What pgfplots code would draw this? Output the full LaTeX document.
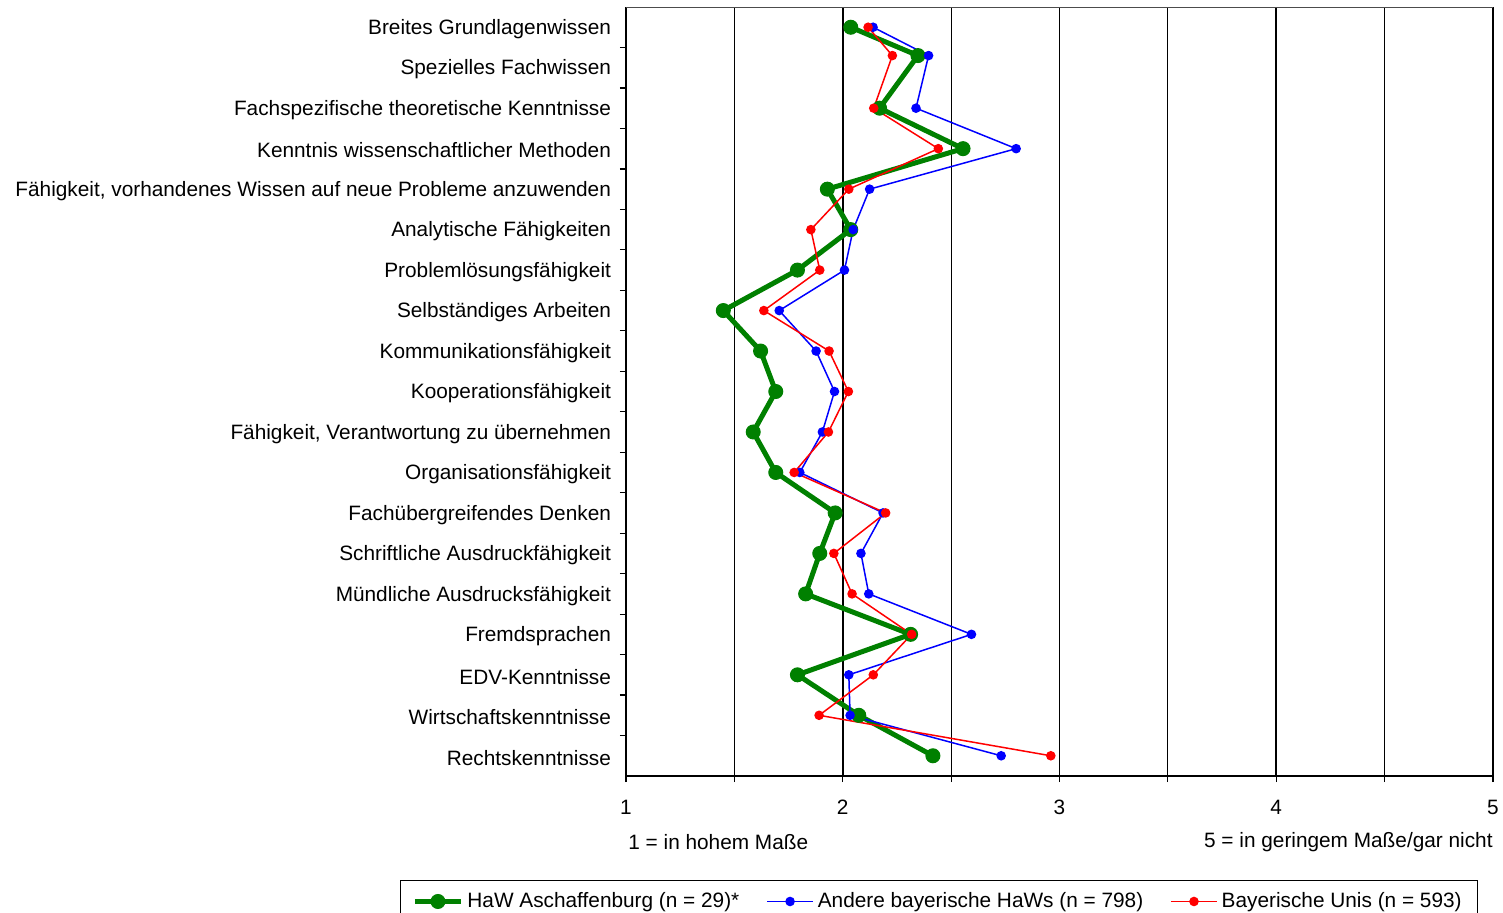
\documentclass[border=0pt]{standalone}
\usepackage{pgfplots}
\pgfplotsset{compat=1.18}
\usepackage{pgfplotstable}
\usepackage{fontspec}
\setmainfont{Liberation Sans}

\definecolor{cgreen}{RGB}{0,128,0}
\definecolor{cblue}{RGB}{0,0,255}
\definecolor{cred}{RGB}{255,0,0}

% row position (0 = top), mean ratings of the three groups
\pgfplotstableread{
pos  aschaffenburg  haws   unis
0    2.037          2.140  2.117
0.7  2.347          2.396  2.229
2    2.170          2.338  2.143
3    2.555          2.800  2.441
4    1.929          2.124  2.028
5    2.037          2.048  1.853
6    1.791          2.008  1.894
7    1.449          1.707  1.636
8    1.621          1.877  1.937
9    1.691          1.962  2.026
10   1.587          1.906  1.934
11   1.691          1.802  1.776
12   1.965          2.186  2.198
13   1.894          2.084  1.959
14   1.829          2.120  2.043
15   2.313          2.594  2.318
16   1.791          2.028  2.141
17   2.074          2.034  1.891
18   2.416          2.731  2.960
}\scores

\begin{document}
\begin{tikzpicture}[font=\fontsize{10.4bp}{12bp}\selectfont]
\begin{axis}[
  scale only axis,
  width=433.5bp, height=384.5bp,
  xmin=1, xmax=5,
  ymin=-0.5, ymax=18.5,
  y dir=reverse,
  axis x line*=bottom,
  axis y line*=left,
  x axis line style={line width=1.2bp},
  y axis line style={line width=0.7bp},
  tick align=outside,
  xtick={1,2,3,4,5},
  minor xtick={1.5,2.5,3.5,4.5},
  major tick length=3bp,
  minor tick length=3bp,
  xmajorgrids, xminorgrids,
  major grid style={black, line width=0.9bp},
  minor grid style={black, line width=0.5bp},
  major x tick style={black, line width=0.6bp},
  minor x tick style={black, line width=0.6bp},
  major y tick style={draw=none},
  minor y tick style={black, line width=0.6bp},
  ytick={0,...,18},
  minor ytick={0.5,1.5,...,17.5},
  yticklabels={
    Breites Grundlagenwissen,
    Spezielles Fachwissen,
    Fachspezifische theoretische Kenntnisse,
    Kenntnis wissenschaftlicher Methoden,
    {Fähigkeit, vorhandenes Wissen auf neue Probleme anzuwenden},
    Analytische Fähigkeiten,
    Problemlösungsfähigkeit,
    Selbständiges Arbeiten,
    Kommunikationsfähigkeit,
    Kooperationsfähigkeit,
    {Fähigkeit, Verantwortung zu übernehmen},
    Organisationsfähigkeit,
    Fachübergreifendes Denken,
    Schriftliche Ausdruckfähigkeit,
    Mündliche Ausdrucksfähigkeit,
    Fremdsprachen,
    EDV-Kenntnisse,
    Wirtschaftskenntnisse,
    Rechtskenntnisse},
  yticklabel style={anchor=east, xshift=-1bp, yshift=-0.9bp},
  xticklabel style={yshift=-5.5bp},
  /pgf/number format/assume math mode=true,
  legend columns=3,
  legend cell align=left,
  legend style={at={(-0.2607,-0.1352)}, anchor=north west,
    draw=black, line width=0.5bp, inner xsep=6bp, inner ysep=4bp,
    /tikz/every even column/.append style={column sep=11.5bp}},
  legend image code/.code={
    \draw[mark repeat=2, mark phase=2, #1]
      plot coordinates {(0bp,0bp) (11.5bp,0bp) (23bp,0bp)};},
]
\addplot[cgreen, line width=2.5bp, mark=*, mark size=3.5bp,
  mark options={solid, line width=0.5bp}]
  table[x=aschaffenburg, y=pos] {\scores};
\addlegendentry{HaW Aschaffenburg (n = 29)*}
\addplot[cblue, line width=0.75bp, mark=*, mark size=2bp]
  table[x=haws, y=pos] {\scores};
\addlegendentry{Andere bayerische HaWs (n = 798)}
\addplot[cred, line width=0.75bp, mark=*, mark size=2bp]
  table[x=unis, y=pos] {\scores};
\addlegendentry{Bayerische Unis (n = 593)}
\draw[black!70, line width=0.6bp]
  (axis description cs:0,1) -- (axis description cs:1,1);
\end{axis}
\node[anchor=west, inner sep=0pt] at (1bp,-33bp) {1 = in hohem Maße};
\node[anchor=east, inner sep=0pt] at (433.5bp,-33bp) {5 = in geringem Maße/gar nicht};
\pgfresetboundingbox
\path[use as bounding box] (-313bp,-68.5bp) rectangle (438.5bp,388bp);
\end{tikzpicture}
\end{document}
